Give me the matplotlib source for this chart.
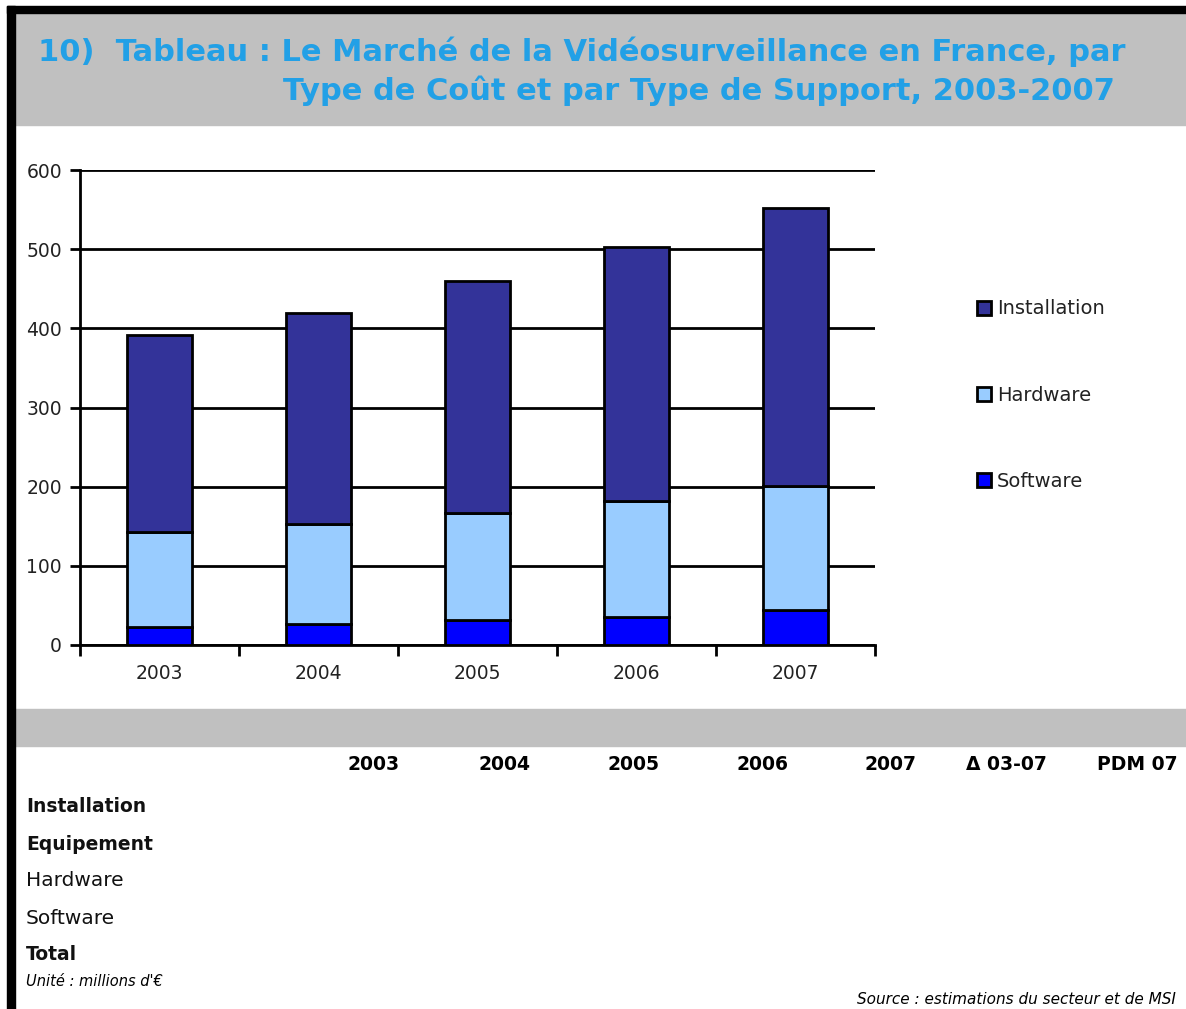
import numpy as np
import matplotlib.pyplot as plt
from matplotlib.patches import Rectangle, Patch

# chart data (millions d'euros)
years = ['2003', '2004', '2005', '2006', '2007']
software = [23, 26, 31, 36, 44]
hardware = [120, 127, 136, 146, 157]
installation = [249, 266, 293, 321, 351]
series_names = ['Installation', 'Hardware', 'Software']

# empty table below the chart
table_cols = ['2003', '2004', '2005', '2006', '2007', '\u0394 03-07', 'PDM 07']
table_rows = ['Installation', 'Equipement', 'Hardware', 'Software', 'Total']
bold_rows = [True, True, False, False, True]

W, H = 1186, 1009
c_inst = '#333399'
c_hard = '#99ccff'
c_soft = '#0000ff'
c_title = '#22a0e6'
c_gray = '#c0c0c0'


def fy(py):
    # pixel row -> figure fraction
    return 1 - py / H


def fx(px):
    return px / W


fig = plt.figure(figsize=(W / 100, H / 100), dpi=100)
fig.patch.set_facecolor('white')

# frame and gray bands
fig.patches.append(Rectangle((fx(14), fy(125)), 1, fy(13) - fy(125),
                             transform=fig.transFigure, color=c_gray, zorder=0))
fig.patches.append(Rectangle((fx(7), fy(13)), 1, fy(6) - fy(13),
                             transform=fig.transFigure, color='black', zorder=1))
fig.patches.append(Rectangle((fx(7), 0), fx(8), fy(6),
                             transform=fig.transFigure, color='black', zorder=1))
fig.patches.append(Rectangle((fx(15), fy(746)), 1, fy(709) - fy(746),
                             transform=fig.transFigure, color=c_gray, zorder=0))

fig.text(fx(38), fy(52), '10)  Tableau : Le March\u00e9 de la Vid\u00e9osurveillance en France, par',
         color=c_title, fontsize=22, fontweight='bold', va='center', ha='left')
fig.text(fx(283), fy(91), 'Type de Co\u00fbt et par Type de Support, 2003-2007',
         color=c_title, fontsize=22, fontweight='bold', va='center', ha='left')

# chart
ax = fig.add_axes([fx(80), fy(645), fx(875) - fx(80), fy(170) - fy(645)])
x = np.arange(len(years))
bw = 0.41
ax.bar(x, software, bw, color=c_soft, edgecolor='black', linewidth=2, zorder=3)
ax.bar(x, hardware, bw, bottom=software, color=c_hard, edgecolor='black',
       linewidth=2, zorder=3)
bottom2 = np.array(software) + np.array(hardware)
ax.bar(x, installation, bw, bottom=bottom2, color=c_inst, edgecolor='black',
       linewidth=2, zorder=3)

ax.set_xlim(-0.5, len(years) - 0.5)
ax.set_ylim(0, 600)
ax.set_yticks(range(0, 601, 100))
ax.yaxis.grid(True, color='black', linewidth=2, zorder=0)
ax.set_axisbelow(True)
for s in ['top', 'right']:
    ax.spines[s].set_visible(False)
for s in ['left', 'bottom']:
    ax.spines[s].set_linewidth(2)
ax.set_xticks(x)
ax.set_xticklabels(years)
ax.set_xticks(np.arange(len(years) + 1) - 0.5, minor=True)
ax.tick_params(axis='x', which='major', length=0, pad=14, labelsize=13.5, labelcolor='#222222')
ax.tick_params(axis='x', which='minor', length=8, width=2, direction='out')
ax.tick_params(axis='y', length=7, width=2, direction='out', pad=6,
               labelsize=13.5, labelcolor='#222222')

handles = [Patch(facecolor=c, edgecolor='black', linewidth=2)
           for c in [c_inst, c_hard, c_soft]]
fig.legend(handles, series_names, loc='center left',
           bbox_to_anchor=(fx(967), fy(395)), frameon=False, fontsize=14,
           labelspacing=3.45, handlelength=0.75, handleheight=0.75,
           handletextpad=0.3, borderpad=0, labelcolor='#222222')

# table
col_x = [374, 504, 634, 763, 891, 1006, 1137]
for c, px in zip(table_cols, col_x):
    fig.text(fx(px), fy(765), c, fontsize=13.5, fontweight='bold', ha='center', va='center')
row_y = [807, 844, 881, 918, 955]
for r, py, b in zip(table_rows, row_y, bold_rows):
    fig.text(fx(26), fy(py), r, fontsize=13.5 if b else 14.5,
             fontweight='bold' if b else 'normal',
             ha='left', va='center', color='#111111')

fig.text(fx(26), fy(981), 'Unit\u00e9 : millions d\'\u20ac', fontsize=10.5,
         style='italic', ha='left', va='center')
fig.text(fx(1176), fy(999), 'Source : estimations du secteur et de MSI', fontsize=11,
         style='italic', ha='right', va='center')

fig.savefig('out.png', dpi=100)
